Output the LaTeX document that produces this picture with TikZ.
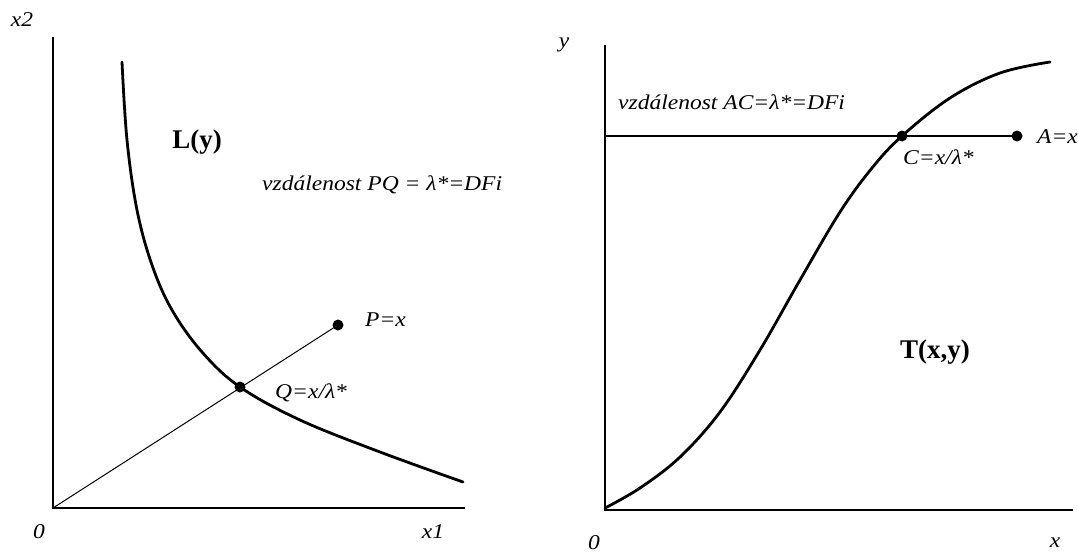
\documentclass[tikz,border=0pt]{standalone}
\usepackage{fontspec}
\setmainfont{Liberation Serif}
\newfontfamily\wideserif{Liberation Serif}[FakeStretch=1.12]
\begin{document}
\begin{tikzpicture}[x=1pt,y=-1pt,
  lbl/.style={font=\wideserif\fontsize{21}{25}\selectfont\itshape, inner sep=0pt},
  big/.style={font=\fontsize{27}{32}\selectfont\bfseries, inner sep=0pt},
  axis/.style={line width=1.5pt},
  thinline/.style={line width=1pt},
  curve/.style={line width=2.8pt, line cap=round, line join=round},
  dot/.style={circle, fill=black, inner sep=0pt, minimum size=11pt}]
\useasboundingbox (0,0) rectangle (1078,554);

% ---------- left panel ----------
\coordinate (O1) at (53,508);
\coordinate (Y1) at (53,37);
\coordinate (X1) at (465,508);
\draw[axis] (Y1) -- (O1) -- (X1);
\node[lbl] (x2lab) at (22,20) {x2};
\node[lbl] (zero1) at (39,532) {0};
\node[lbl] (x1lab) at (433,532) {x1};

\node[dot] (P) at (338,325) {};
\node[dot] (Q) at (240,387) {};
\draw[thinline] (O1) -- (P.center);
\draw[curve] plot[smooth, tension=0.6] coordinates {(122,62) (127,140) (137,210) (152,265) (172,310) (202,352) (240,387) (300,420) (380,452) (463,482)};

\node[big] (Ly) at (197,142) {L(y)};
\node[lbl, anchor=west] (PQtxt) at (262,185) {vzdálenost PQ = λ*=DFi};
\node[lbl, anchor=west] (Plab) at (365,320) {P=x};
\node[lbl, anchor=west] (Qlab) at (275,393) {Q=x/λ*};

% ---------- right panel ----------
\coordinate (O2) at (605,510);
\coordinate (Y2) at (605,45);
\coordinate (X2) at (1073,510);
\draw[axis] (Y2) -- (O2) -- (X2);
\node[lbl] (ylab) at (564,45) {y};
\node[lbl] (zero2) at (594,543) {0};
\node[lbl] (xlab) at (1055,543) {x};

\node[dot] (A) at (1017,136) {};
\node[dot] (C) at (902,136) {};
\coordinate (H) at (605,136);
\draw[axis] (H) -- (A.center);
\draw[curve] plot[smooth, tension=0.6] coordinates {(605,508) (640,488) (680,457) (720,412) (760,350) (800,280) (840,212) (872,168) (902,136) (950,98) (1000,73) (1050,62)};

\node[lbl, anchor=west] (ACtxt) at (618,102) {vzdálenost AC=λ*=DFi};
\node[lbl, anchor=west] (Alab) at (1037,137) {A=x};
\node[lbl, anchor=west] (Clab) at (903,157) {C=x/λ*};
\node[big, anchor=west] (Txy) at (900,352) {T(x,y)};
\end{tikzpicture}
\end{document}
